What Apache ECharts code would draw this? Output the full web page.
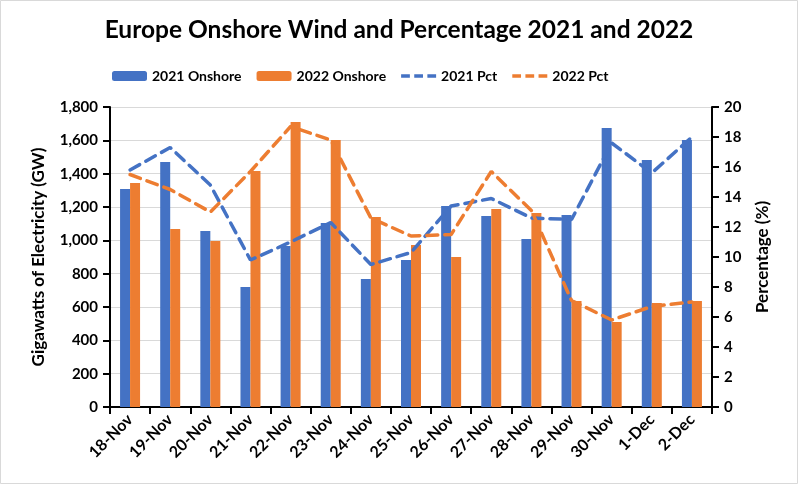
<!DOCTYPE html>
<html><head><meta charset="utf-8">
<script src="https://cdn.jsdelivr.net/npm/echarts@6/dist/echarts.min.js"></script>
<style>html,body{margin:0;padding:0;background:#fff}#c{width:798px;height:484px}</style>
</head><body><div id="c"></div>
<script>
const categories = ['18-Nov','19-Nov','20-Nov','21-Nov','22-Nov','23-Nov','24-Nov','25-Nov','26-Nov','27-Nov','28-Nov','29-Nov','30-Nov','1-Dec','2-Dec'];
const onshore2021 = [1308,1470,1056,720,966,1104,768,882,1206,1146,1008,1152,1674,1482,1602];
const onshore2022 = [1344,1068,996,1416,1710,1602,1140,972,900,1188,1164,636,510,624,636];
const pct2021 = [15.8,17.3,14.8,9.8,11.0,12.3,9.5,10.3,13.4,13.9,12.6,12.5,17.6,15.6,18.0];
const pct2022 = [15.5,14.5,13.0,15.7,18.7,17.8,12.6,11.4,11.5,15.7,13.1,7.1,5.8,6.7,7.0];

const FONT = 'Lato, "Open Sans", sans-serif';
const BLUE = '#4472C4', ORANGE = '#ED7D31';
const DASH_ICON = 'path://M0,0M36,10M0,3.3h9v3.4h-9zM13.5,3.3h9v3.4h-9zM27,3.3h9v3.4h-9z';
const chart = echarts.init(document.getElementById('c'), null, {renderer:'canvas'});
const axisLine = {show:true, lineStyle:{color:'#000', width:2}};
chart.setOption({
  animation:false,
  backgroundColor:'#fff',
  graphic:[{type:'rect', shape:{x:0.5,y:0.5,width:797,height:483}, style:{fill:'none', stroke:'#d9d9d9', lineWidth:1}}],
  title:{text:'Europe Onshore Wind and Percentage 2021 and 2022', left:'center', top:13,
    textStyle:{fontFamily:FONT, fontWeight:'bold', fontSize:24.5, color:'#000'}},
  legend:{top:64, left:107, itemGap:15, itemWidth:35, itemHeight:10,
    textStyle:{fontFamily:FONT, fontSize:14, fontWeight:'bold', color:'#000'},
    data:[{name:'2021 Onshore'},{name:'2022 Onshore'},
          {name:'2021 Pct', icon:DASH_ICON, itemStyle:{color:BLUE}},
          {name:'2022 Pct', icon:DASH_ICON, itemStyle:{color:ORANGE}}]},
  grid:{left:110, right:86, top:107, bottom:77, containLabel:false},
  xAxis:{type:'category', data:categories, axisLine:axisLine,
    axisTick:{show:true, length:7, lineStyle:{color:'#000', width:2}},
    axisLabel:{rotate:45, fontFamily:FONT, fontSize:16, fontWeight:'bold', color:'#000', margin:10}},
  yAxis:[
    {type:'value', min:0, max:1800, interval:200, name:'Gigawatts of Electricity (GW)', nameLocation:'middle', nameGap:63,
     nameTextStyle:{fontFamily:FONT, fontSize:17, fontWeight:'bold', color:'#000'},
     axisLine:axisLine, axisTick:{show:true, length:7, lineStyle:{color:'#000', width:2}},
     axisLabel:{fontFamily:FONT, fontSize:15, fontWeight:'bold', color:'#000', margin:12,
       formatter:v=>v.toLocaleString('en-US')},
     splitLine:{show:true, lineStyle:{color:'#d9d9d9', width:1}}},
    {type:'value', min:0, max:20, interval:2, name:'Percentage (%)', nameLocation:'middle', nameGap:42, nameRotate:90,
     nameTextStyle:{fontFamily:FONT, fontSize:17, fontWeight:'bold', color:'#000'},
     axisLine:axisLine, axisTick:{show:true, length:7, lineStyle:{color:'#000', width:2}},
     axisLabel:{fontFamily:FONT, fontSize:15, fontWeight:'bold', color:'#000', margin:12},
     splitLine:{show:false}}
  ],
  series:[
    {name:'2021 Onshore', type:'bar', data:onshore2021, barWidth:10, barGap:'0%', itemStyle:{color:BLUE}},
    {name:'2022 Onshore', type:'bar', data:onshore2022, barWidth:10, barGap:'0%', itemStyle:{color:ORANGE}},
    {name:'2021 Pct', type:'line', yAxisIndex:1, data:pct2021, symbol:'none', itemStyle:{color:BLUE},
     lineStyle:{color:BLUE, width:3.5, type:[11,7], cap:'round'}},
    {name:'2022 Pct', type:'line', yAxisIndex:1, data:pct2022, symbol:'none', itemStyle:{color:ORANGE},
     lineStyle:{color:ORANGE, width:3.5, type:[11,7], cap:'round'}}
  ]
});
</script></body></html>
